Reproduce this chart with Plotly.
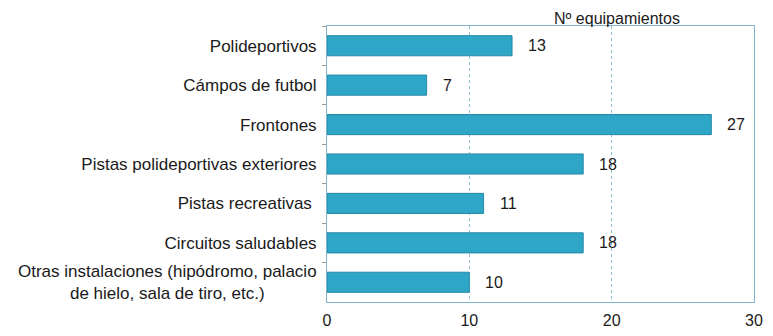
import plotly.graph_objects as go

categories = [
    "Polideportivos",
    "Cámpos de futbol",
    "Frontones",
    "Pistas polideportivas exteriores",
    "Pistas recreativas ",
    "Circuitos saludables",
    "Otras instalaciones (hipódromo, palacio<br>de hielo, sala de tiro, etc.)" + "\u00a0" * 11,
]
values = [13, 7, 27, 18, 11, 18, 10]
x_ticks = [0, 10, 20, 30]
title_text = "Nº equipamientos"

bar_color = "#2ea6c7"
axis_color = "#7fb6cb"
grid_color = "#8fc0d2"
FONT = "Liberation Sans, Arial"
FS = 16

fig = go.Figure()
fig.add_trace(go.Bar(
    y=categories, x=values, orientation="h",
    marker=dict(color=bar_color, line=dict(color="#2788a4", width=1)),
    width=0.51, hoverinfo="skip",
))
annos = []
for c, v in zip(categories, values):
    annos.append(dict(x=v, y=c, text=str(v), showarrow=False,
                      xanchor="left", xshift=14,
                      font=dict(family=FONT, size=FS, color="#1a1a1a")))
annos.append(dict(
    x=20, y=1, xref="x", yref="paper", yanchor="bottom", yshift=-3, xshift=5,
    text=title_text, showarrow=False,
    font=dict(family=FONT, size=FS, color="#1a1a1a")))

fig.update_layout(
    width=773, height=336,
    margin=dict(l=327, r=19, t=26, b=34, autoexpand=False),
    paper_bgcolor="white", plot_bgcolor="white",
    showlegend=False,
    font=dict(family=FONT, size=FS, color="#1a1a1a"),
    annotations=annos,
)
fig.update_xaxes(
    range=[0, 30], tickvals=x_ticks, ticktext=[str(t) for t in x_ticks],
    showgrid=True, gridcolor=grid_color, griddash="dot", gridwidth=1,
    showline=True, linecolor=axis_color, mirror=True, linewidth=1,
    zeroline=False, ticks="", automargin=False, ticklabelstandoff=4,
)
fig.update_yaxes(
    autorange="reversed", type="category",
    showline=True, linecolor=axis_color, mirror=True, linewidth=1,
    ticks="outside", tickson="boundaries", ticklen=4, tickcolor="#9a9a9a",
    showgrid=False, ticklabelstandoff=6, automargin=False,
    tickfont=dict(family=FONT, size=17, color="#1a1a1a"),
)

fig.write_html("out.html", config={"displayModeBar": False},
               post_script="document.body.style.margin='0';")
